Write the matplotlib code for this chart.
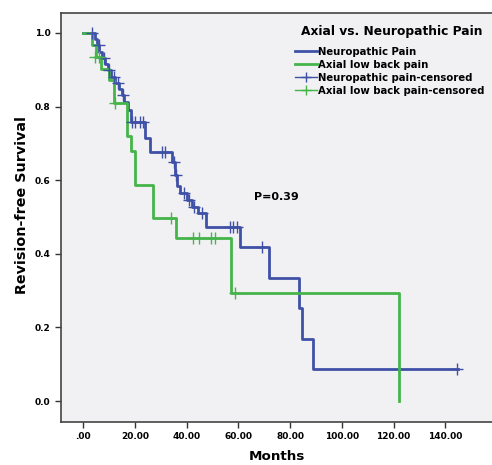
import matplotlib.pyplot as plt
from matplotlib.lines import Line2D

# Kaplan-Meier steps (months, survival after the event)
neuro_t = [0, 4.5, 5.3, 6.3, 7.5, 8.5, 9.5, 11, 12.5, 14, 15, 16, 17.5, 18.5,
           24, 26, 34.5, 35.5, 36.5, 37.5, 40, 42, 44.5, 47.5, 60.5, 72, 83.3, 84.5, 88.7, 145]
neuro_s = [1.0, 0.983, 0.966, 0.949, 0.932, 0.915, 0.898, 0.881, 0.864, 0.847, 0.830, 0.813,
           0.790, 0.757, 0.715, 0.677, 0.650, 0.615, 0.583, 0.565, 0.546, 0.527, 0.510,
           0.473, 0.419, 0.334, 0.253, 0.168, 0.087, 0.087]
neuro_cens_t = [3.5, 6, 8, 10, 12, 13.5, 15.5, 19, 20, 22, 23, 30.5, 31.5, 35, 36, 39, 41, 43,
                46, 56.7, 57.8, 59.5, 69, 144.6]
neuro_cens_s = [1.0, 0.966, 0.932, 0.898, 0.881, 0.864, 0.830, 0.757, 0.757, 0.757, 0.757,
                0.677, 0.677, 0.650, 0.615, 0.565, 0.546, 0.527, 0.510, 0.473, 0.473, 0.473,
                0.419, 0.087]

axial_t = [0, 3.5, 5, 7, 10, 12, 17, 18.5, 20, 27, 36, 57, 122]
axial_s = [1.0, 0.968, 0.935, 0.903, 0.871, 0.81, 0.72, 0.68, 0.587, 0.497, 0.443, 0.293, 0.0]
axial_cens_t = [4.5, 6, 12.3, 34, 42.5, 45, 49.5, 51, 58.6]
axial_cens_s = [0.935, 0.935, 0.81, 0.497, 0.443, 0.443, 0.443, 0.443, 0.293]

xticks = [0, 20, 40, 60, 80, 100, 120, 140]
xlabels = [".00", "20.00", "40.00", "60.00", "80.00", "100.00", "120.00", "140.00"]
yticks = [0.0, 0.2, 0.4, 0.6, 0.8, 1.0]

blue = "#3f51a6"
green = "#45b449"

fig = plt.figure(figsize=(4.92, 4.65), dpi=100)
ax = fig.add_axes([0.124, 0.0925, 0.876, 0.8795])
ax.set_facecolor("#f1f1f3")

ax.step(neuro_t, neuro_s, where="post", color=blue, lw=2)
ax.step(axial_t, axial_s, where="post", color=green, lw=2)
ax.plot(neuro_cens_t, neuro_cens_s, ls="none", marker="+", ms=8, mew=1, color=blue)
ax.plot(axial_cens_t, axial_cens_s, ls="none", marker="+", ms=8, mew=1, color=green)

ax.set_xlim(-8.5, 158)
ax.set_ylim(-0.057, 1.054)
ax.set_xticks(xticks)
ax.set_xticklabels(xlabels, fontsize=6.5, fontweight="bold")
ax.set_yticks(yticks)
ax.set_yticklabels(["%.1f" % v for v in yticks], fontsize=6.5, fontweight="bold")
ax.tick_params(direction="out", length=4, width=1, color="#333333")
for side in ["left", "bottom", "top"]:
    ax.spines[side].set_color("#444444")
    ax.spines[side].set_linewidth(1.2)
ax.spines["right"].set_visible(False)

ax.set_xlabel("Months", fontsize=9.7, fontweight="bold", labelpad=6)
ax.set_ylabel("Revision-free Survival", fontsize=10.3, fontweight="bold")
ax.yaxis.set_label_coords(-0.074, 0.53)

ax.text(74.8, 0.555, "P=0.39", fontsize=8, fontweight="bold", ha="center", va="center")

# legend: title drawn separately so the gap under it matches
fig.text(392 / 492, 1 - 32 / 465, "Axial vs. Neuropathic Pain", fontsize=8.8,
         fontweight="bold", ha="center", va="center")
handles = [Line2D([], [], color=blue, lw=2),
           Line2D([], [], color=green, lw=2),
           Line2D([], [], color=blue, lw=1, marker="+", ms=7),
           Line2D([], [], color=green, lw=1, marker="+", ms=7)]
labels = ["Neuropathic Pain", "Axial low back pain",
          "Neuropathic pain-censored", "Axial low back pain-censored"]
ax.legend(handles, labels, loc="upper left", bbox_to_anchor=(295 / 492, 1 - 47 / 465),
          bbox_transform=fig.transFigure, frameon=False,
          prop={"size": 7.3, "weight": "bold"},
          handlelength=2.2, handletextpad=0.1, labelspacing=0.28, borderpad=0,
          borderaxespad=0)

fig.savefig("out.png", dpi=100)
